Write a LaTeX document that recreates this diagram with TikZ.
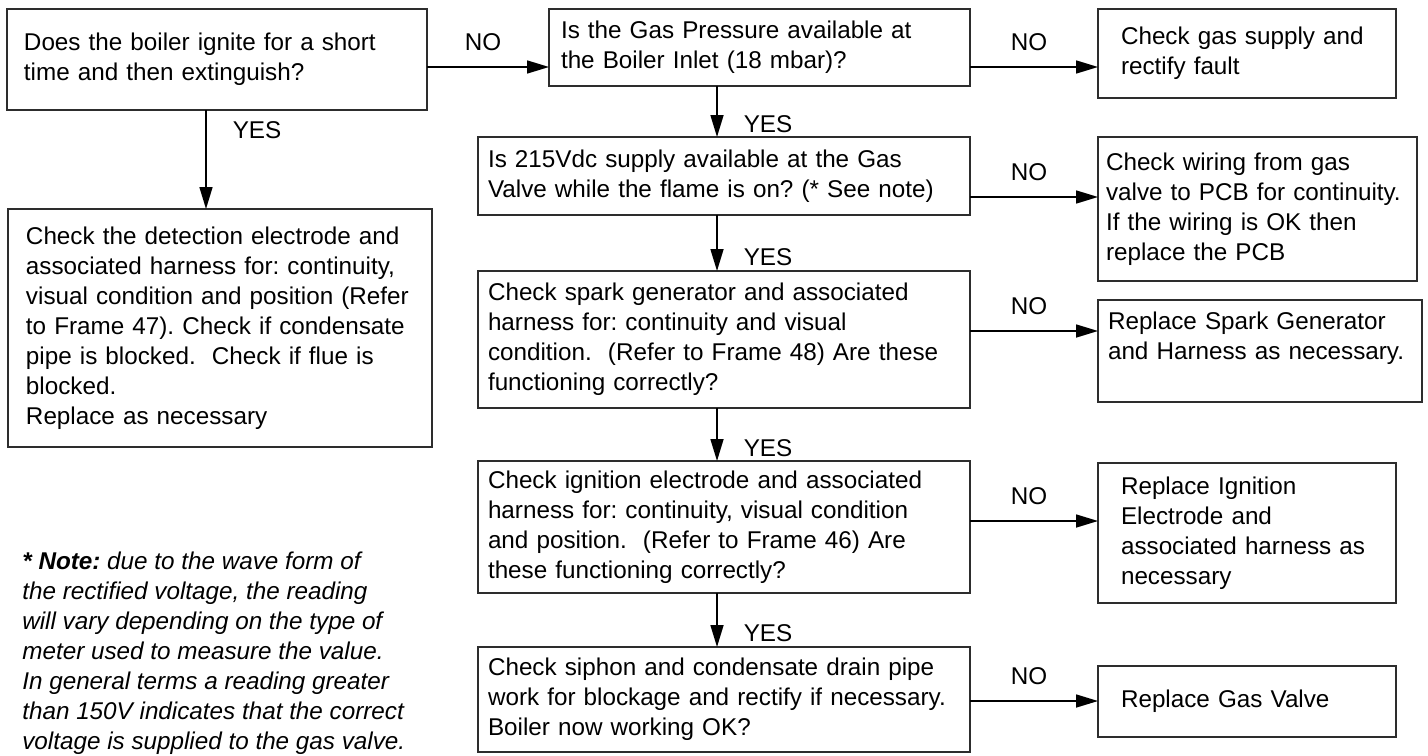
\documentclass[tikz,border=0pt]{standalone}
\usepackage{fontspec}
\setmainfont{Liberation Sans}
\usetikzlibrary{arrows.meta}
\definecolor{frameGray}{RGB}{45,45,45}
\newcommand{\chartfont}{\fontsize{13.8pt}{17.07pt}\selectfont}
\frenchspacing
\hyphenpenalty=10000
\exhyphenpenalty=10000

\begin{document}
\begin{tikzpicture}[
    box/.style={draw=frameGray,line width=0.9pt,align=left,inner ysep=0pt,
                outer sep=0pt,font=\chartfont},
    mid/.style={box,minimum width=9.84cm,text width=9.44cm,inner xsep=0.2cm},
    side/.style={box,minimum width=5.96cm,text width=5.04cm,inner xsep=0.46cm},
    msg/.style={->,>={Triangle[length=0.44cm,width=0.26cm]},draw=black,
                line width=0.9pt},
    lbl/.style={inner sep=0pt,font=\chartfont},
  ]
    \useasboundingbox (0,0) rectangle (28.56,-15.1);

    % Left column
    \node[box,minimum width=8.4cm,minimum height=2.02cm,text width=7.72cm,
          inner xsep=0.34cm] (ignite) at (4.34,-1.19)
      {Does the boiler ignite for a short\\time and then extinguish?};
    \node[box,minimum width=8.48cm,minimum height=4.76cm,text width=7.76cm,
          inner xsep=0.36cm] (detect) at (4.4,-6.56)
      {Check the detection electrode and\\associated harness for: continuity,\\
       visual condition and position (Refer\\to Frame 47). Check if condensate\\
       pipe is blocked.\ \ Check if flue is\\blocked.\\Replace as necessary};

    % Centre column
    \node[box,minimum width=8.42cm,minimum height=1.54cm,text width=7.94cm,
          inner xsep=0.24cm] (press) at (15.19,-0.95)
      {Is the Gas Pressure available at\\the Boiler Inlet (18 mbar)?};
    \node[mid,minimum height=1.56cm] (volt) at (14.48,-3.52)
      {Is 215Vdc supply available at the Gas\\Valve while the flame is on? (* See note)};
    \node[mid,minimum height=2.74cm] (spark) at (14.48,-6.79)
      {Check spark generator and associated\\harness for: continuity and visual\\
       condition.\ \ (Refer to Frame 48) Are these\\functioning correctly?};
    \node[mid,minimum height=2.64cm] (ignit) at (14.48,-10.54)
      {Check ignition electrode and associated\\harness for: continuity, visual condition\\
       and position.\ \ (Refer to Frame 46) Are\\these functioning correctly?};
    \node[mid,minimum height=2.1cm] (siphon) at (14.48,-13.99)
      {Check siphon and condensate drain pipe\\work for blockage and rectify if necessary.\\
       Boiler now working OK?};

    % Right column
    \node[side,minimum height=1.78cm] (supply) at (24.94,-1.07)
      {Check gas supply and\\rectify fault};
    \node[box,minimum width=6.38cm,minimum height=2.88cm,text width=6.06cm,
          inner xsep=0.16cm] (wiring) at (25.15,-4.18)
      {Check wiring from gas\\valve to PCB for continuity.\\If the wiring is OK then\\
       replace the PCB};
    \node[box,minimum width=6.48cm,minimum height=2.04cm,text width=6.08cm,
          inner xsep=0.2cm] (sparkfix) at (25.2,-7.02)
      {Replace Spark Generator\\and Harness as necessary.\\\mbox{}};
    \node[side,minimum height=2.8cm] (ignfix) at (24.94,-10.66)
      {Replace Ignition\\Electrode and\\associated harness as\\necessary};
    \node[side,minimum height=1.42cm] (valve) at (24.94,-14.03)
      {Replace Gas Valve};

    % Note
    \node[lbl,align=left,anchor=west,font=\chartfont\itshape] (note) at (0.44,-13.07)
      {\textbf{* Note:} due to the wave form of\\the rectified voltage, the reading\\
       will vary depending on the type of\\meter used to measure the value.\\
       In general terms a reading greater\\than 150V indicates that the correct\\
       voltage is supplied to the gas valve.};

    % NO branches
    \coordinate (ab) at ([yshift=-0.15cm]ignite.east);
    \draw[msg] (ab) -- (ab -| press.west)
      node[lbl,midway,above=0.3cm,xshift=-0.1cm] {NO};
    \coordinate (bc) at ([yshift=-0.39cm]press.east);
    \draw[msg] (bc) -- (bc -| supply.west)
      node[lbl,midway,above=0.3cm,xshift=-0.1cm] {NO};
    \coordinate (de) at ([yshift=-0.42cm]volt.east);
    \draw[msg] (de) -- (de -| wiring.west)
      node[lbl,midway,above=0.3cm,xshift=-0.1cm] {NO};
    \coordinate (fg) at ([yshift=0.17cm]spark.east);
    \draw[msg] (fg) -- (fg -| sparkfix.west)
      node[lbl,midway,above=0.3cm,xshift=-0.1cm] {NO};
    \coordinate (hi) at ([yshift=0.12cm]ignit.east);
    \draw[msg] (hi) -- (hi -| ignfix.west)
      node[lbl,midway,above=0.3cm,xshift=-0.1cm] {NO};
    \coordinate (jk) at ([yshift=-0.03cm]siphon.east);
    \draw[msg] (jk) -- (jk -| valve.west)
      node[lbl,midway,above=0.3cm,xshift=-0.1cm] {NO};

    % YES branches
    \coordinate (ad) at ([xshift=-0.22cm]ignite.south);
    \draw[msg] (ad) -- (ad |- detect.north)
      node[lbl,pos=0.2,anchor=west,xshift=0.52cm] {YES};
    \coordinate (bd) at ([xshift=-0.85cm]press.south);
    \draw[msg] (bd) -- (bd |- volt.north)
      node[lbl,pos=0.75,anchor=west,xshift=0.52cm] {YES};
    \draw[msg] (bd |- volt.south) -- (bd |- spark.north)
      node[lbl,pos=0.75,anchor=west,xshift=0.52cm] {YES};
    \draw[msg] (bd |- spark.south) -- (bd |- ignit.north)
      node[lbl,pos=0.75,anchor=west,xshift=0.52cm] {YES};
    \draw[msg] (bd |- ignit.south) -- (bd |- siphon.north)
      node[lbl,pos=0.75,anchor=west,xshift=0.52cm] {YES};

  \end{tikzpicture}
\end{document}
